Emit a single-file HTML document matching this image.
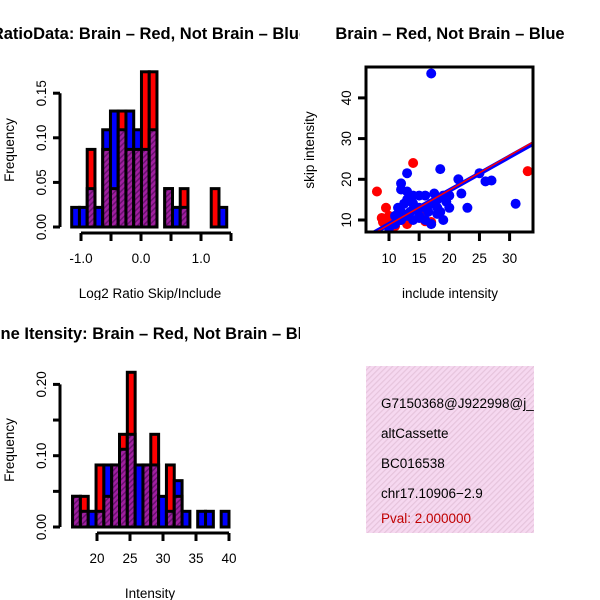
<!DOCTYPE html>
<html><head><meta charset="utf-8"><style>
html,body{margin:0;padding:0;background:#fff;}
svg{display:block;font-family:"Liberation Sans",sans-serif;}
</style></head><body>
<svg id="c" width="600" height="600" viewBox="0 0 600 600" xmlns="http://www.w3.org/2000/svg">
<defs>
<pattern id="purp" width="4" height="4" patternUnits="userSpaceOnUse" patternTransform="rotate(45)">
<rect width="4" height="4" fill="#a020a0"/><rect width="1.5" height="4" fill="#6a1070"/>
</pattern>
<pattern id="pink" width="4" height="4" patternUnits="userSpaceOnUse" patternTransform="rotate(45)">
<rect width="4" height="4" fill="#f6d8f0"/><rect width="1.2" height="4" fill="#e6c4dc"/>
</pattern>
<clipPath id="p1"><rect x="0" y="0" width="300" height="300"/></clipPath>
<clipPath id="p3"><rect x="0" y="300" width="300" height="300"/></clipPath>
<clipPath id="p4"><rect x="300" y="300" width="234" height="300"/></clipPath>
</defs>
<g id="g1" clip-path="url(#p1)"></g>
<g id="g2"></g>
<g id="g3" clip-path="url(#p3)"></g>
<g id="g4" clip-path="url(#p4)"></g>
</svg>
<script>
// ---- data ----
const ratioBrain    = [0,0,0.087,0,0.087,0.043,0.13,0.087,0.087,0.174,0.174,0,0.043,0,0.043,0,0,0,0.043,0];
const ratioNotBrain = [0.022,0.022,0.043,0.022,0.109,0.13,0.109,0.13,0.109,0.087,0.109,0,0.043,0.022,0.022,0,0,0,0,0.022];
const ratioStart = -1.155, ratioBin = 0.1292;
const ratioXTicks = [-1.0,-0.5,0.0,0.5,1.0,1.5];
const ratioXLabels = ["-1.0","","0.0","","1.0",""];
const ratioYTicks = [0,0.05,0.10,0.15];
const ratioYLabels = ["0.00","0.05","0.10","0.15"];

const intBrain    = [0.043,0.043,0,0.087,0.043,0.087,0.13,0.217,0,0.087,0.13,0,0.087,0.043,0,0,0,0,0,0];
const intNotBrain = [0.043,0.022,0.022,0.022,0.087,0.087,0.109,0.13,0.087,0.087,0.087,0.043,0.022,0.065,0.022,0,0.022,0.022,0,0.022];
const intStart = 16.3, intBin = 1.185;
const intXTicks = [20,25,30,35,40];
const intXLabels = ["20","25","30","35","40"];
const intYTicks = [0,0.05,0.10,0.15,0.20];
const intYLabels = ["0.00","","0.10","","0.20"];

const blueInc  = [17,13,18.5,21.5,25,26,27,31,12,12,13,14,15,16,13,14,19,20,22,17,18,20,23,11.5,12,13,15,16,17,15,18,19,14,11,10,16.5,18,12.5,14.5,16,19.5,13.5,17.5,11,15,12,18.5,14];
const blueSkip = [46,21.5,22.5,20,21.5,19.5,19.7,14,19,17.5,17,16,16,16,15,14,16,16,16.5,14,13,13,13,13,12,11,11,10,9,10.5,11.5,10,10,9,8,12,15,14,12.5,13,14.5,12,16.5,11,13,10,12,12.5];
const redInc   = [8,9.5,14,33,9,9,10,8.8,10,16,13,17,15.5,12,11];
const redSkip  = [17,13,24,22,10,9.5,11,10.5,9.5,9.7,9,9.5,11,10,8.5];
const fitBlue = [0.83,0.65];
const fitRed  = [0.85,0.35];
const scXTicks = [10,15,20,25,30];
const scXLabels = ["10","15","20","25","30"];
const scYTicks = [10,20,30,40];
const scYLabels = ["10","20","30","40"];

const NS="http://www.w3.org/2000/svg";
const FS=13.5, TS=16.5;
function mk(parent,tag,attrs,name,text){
  const e=document.createElementNS(NS,tag);
  for(const k in attrs) e.setAttribute(k,attrs[k]);
  
  
  if(text!==undefined) e.textContent=text;
  parent.appendChild(e); return e;
}

function hist(g,brain,notb,start,bin,xs,ys,xT,xL,yT,yL,title,xlab,yoff){
  const yb=227+yoff;
  for(let i=0;i<brain.length;i++){
    const a=brain[i], b=notb[i], x0=xs(start+i*bin), x1=xs(start+(i+1)*bin);
    const mx=Math.max(a,b), mn=Math.min(a,b);
    if(mx>0){
      const col=a>b?'#ff0000':(b>a?'#0000ff':'url(#purp)');
      mk(g,'rect',{x:x0,y:ys(mx),width:x1-x0,height:yb-ys(mx),fill:col,stroke:'#000','stroke-width':3},'bar-top-'+i);
    }
    if(mn>0){
      mk(g,'rect',{x:x0,y:ys(mn),width:x1-x0,height:yb-ys(mn),fill:'url(#purp)',stroke:'#000','stroke-width':3},'bar-overlap-'+i);
    }
  }
  mk(g,'line',{x1:60,x2:60,y1:ys(yT[0]),y2:ys(yT[yT.length-1]),stroke:'#000','stroke-width':3},'y-axis');
  yT.forEach((v,i)=>{
    mk(g,'line',{x1:53,x2:60,y1:ys(v),y2:ys(v),stroke:'#000','stroke-width':3},'y-tick');
    if(yL[i]) mk(g,'text',{x:0,y:0,transform:`translate(46,${ys(v)}) rotate(-90)`,'text-anchor':'middle','font-size':FS},'y-tick-label',yL[i]);
  });
  mk(g,'line',{x1:xs(xT[0]),x2:xs(xT[xT.length-1]),y1:233+yoff,y2:233+yoff,stroke:'#000','stroke-width':3},'x-axis');
  xT.forEach((v,i)=>{
    mk(g,'line',{x1:xs(v),x2:xs(v),y1:233+yoff,y2:241+yoff,stroke:'#000','stroke-width':3},'x-tick');
    if(xL[i]) mk(g,'text',{x:xs(v),y:263+yoff,'text-anchor':'middle','font-size':FS},'x-tick-label',xL[i]);
  });
  mk(g,'text',{x:150,y:39+yoff,'text-anchor':'middle','font-size':TS,'font-weight':'bold'},'chart-title',title);
  mk(g,'text',{x:150,y:298+yoff,'text-anchor':'middle','font-size':FS},'x-axis-title',xlab);
  mk(g,'text',{x:0,y:0,transform:`translate(14,${150+yoff}) rotate(-90)`,'text-anchor':'middle','font-size':FS},'y-axis-title','Frequency');
}

const g1=document.getElementById('g1');
hist(g1,ratioBrain,ratioNotBrain,ratioStart,ratioBin,v=>141+v*60,v=>227-v/0.05*44.6,
 ratioXTicks,ratioXLabels,ratioYTicks,ratioYLabels,'RatioData: Brain \u2013 Red, Not Brain \u2013 Blue','Log2 Ratio Skip/Include',0);

const g3=document.getElementById('g3');
hist(g3,intBrain,intNotBrain,intStart,intBin,v=>97+(v-20)*6.6,v=>527-v/0.1*71.3,
 intXTicks,intXLabels,intYTicks,intYLabels,'Gene Itensity: Brain \u2013 Red, Not Brain \u2013 Blue','Intensity',300);

// scatter
const g2=document.getElementById('g2');
const sx=v=>389+(v-10)*6.03, sy=v=>220-(v-10)*4.07;
const clipS=mk(g2,'clipPath',{id:'sc'},'scatter-clip');
mk(clipS,'rect',{x:365,y:66,width:169,height:167},'scatter-clip-rect');
const pts=mk(g2,'g',{'clip-path':'url(#sc)'},'scatter-area');
redInc.forEach((v,i)=>mk(pts,'circle',{cx:sx(v),cy:sy(redSkip[i]),r:5,fill:'#ff0000'},'point-brain'));
blueInc.forEach((v,i)=>mk(pts,'circle',{cx:sx(v),cy:sy(blueSkip[i]),r:5,fill:'#0000ff'},'point-not-brain'));
mk(pts,'line',{x1:sx(5),y1:sy(fitBlue[0]*5+fitBlue[1]),x2:sx(36),y2:sy(fitBlue[0]*36+fitBlue[1]),stroke:'#0000ff','stroke-width':4.5},'fit-line-not-brain');
mk(pts,'line',{x1:sx(5),y1:sy(fitRed[0]*5+fitRed[1]),x2:sx(36),y2:sy(fitRed[0]*36+fitRed[1]),stroke:'#ff0000','stroke-width':1.5},'fit-line-brain');
mk(g2,'rect',{x:366,y:67,width:167,height:165,fill:'none',stroke:'#000','stroke-width':3},'plot-box');
scYTicks.forEach((v,i)=>{
  mk(g2,'line',{x1:358,x2:366,y1:sy(v),y2:sy(v),stroke:'#000','stroke-width':3},'y-tick');
  mk(g2,'text',{x:0,y:0,transform:`translate(351,${sy(v)}) rotate(-90)`,'text-anchor':'middle','font-size':FS},'y-tick-label',scYLabels[i]);
});
scXTicks.forEach((v,i)=>{
  mk(g2,'line',{x1:sx(v),x2:sx(v),y1:233,y2:241,stroke:'#000','stroke-width':3},'x-tick');
  mk(g2,'text',{x:sx(v),y:263,'text-anchor':'middle','font-size':FS},'x-tick-label',scXLabels[i]);
});
mk(g2,'text',{x:450,y:39,'text-anchor':'middle','font-size':TS,'font-weight':'bold'},'chart-title','Brain \u2013 Red, Not Brain \u2013 Blue');
mk(g2,'text',{x:450,y:298,'text-anchor':'middle','font-size':FS},'x-axis-title','include intensity');
mk(g2,'text',{x:0,y:0,transform:'translate(314,150) rotate(-90)','text-anchor':'middle','font-size':FS},'y-axis-title','skip intensity');

// info box
const g4=document.getElementById('g4');
mk(g4,'rect',{x:366,y:366,width:168,height:167,fill:'url(#pink)'},'info-box');
const lines=['G7150368@J922998@j_','altCassette','BC016538','chr17.10906\u22122.9'];
const ly=[408,438,468,498];
lines.forEach((t,i)=>mk(g4,'text',{x:381,y:ly[i],'font-size':FS,fill:'#000'},'info-line',t));
mk(g4,'text',{x:381,y:523,'font-size':FS,fill:'#c00000'},'pval-text','Pval: 2.000000');
</script>
</body></html>
